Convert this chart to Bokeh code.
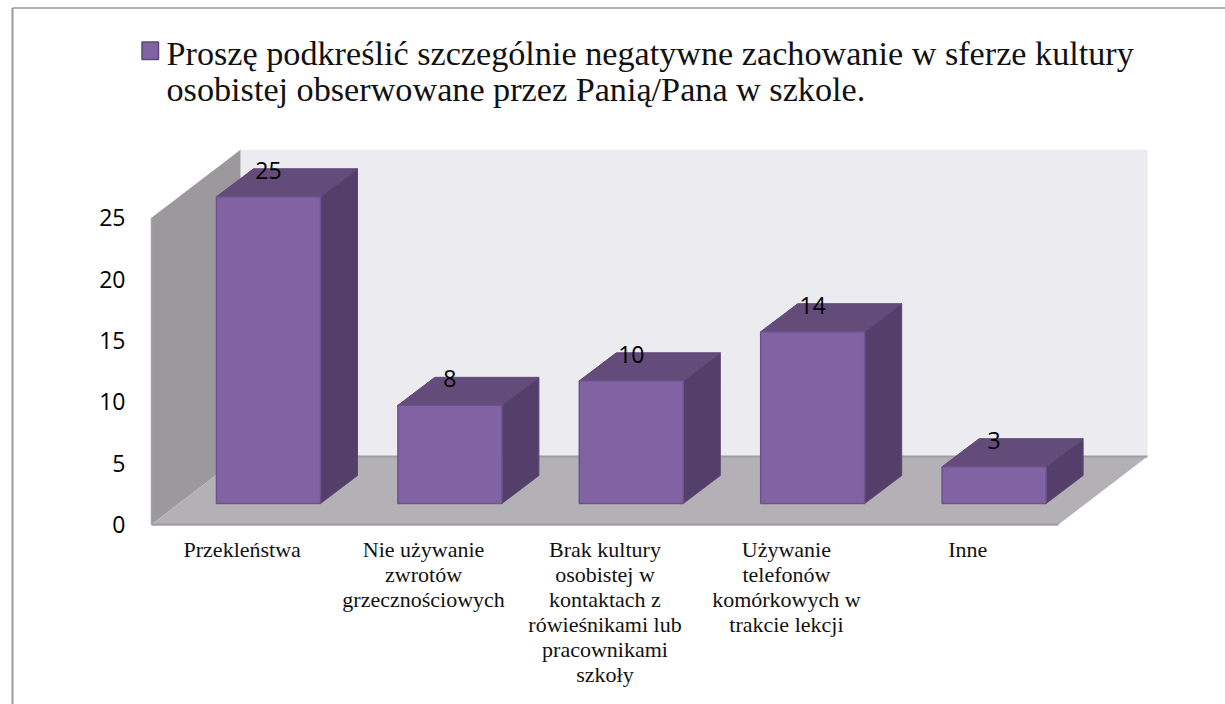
from bokeh.plotting import figure
from bokeh.models import LinearAxis, FixedTicker, Range1d
from bokeh.core.properties import value
from bokeh.embed import file_html
from bokeh.resources import INLINE

categories = ["Przekleństwa", "Nie używanie\nzwrotów\ngrzecznościowych",
              "Brak kultury\nosobistej w\nkontaktach z\nrówieśnikami lub\npracownikami\nszkoły",
              "Używanie\ntelefonów\nkomórkowych w\ntrakcie lekcji", "Inne"]
values = [25, 8, 10, 14, 3]
y_ticks = [0, 5, 10, 15, 20, 25]
legend_lines = ["Proszę podkreślić szczególnie negatywne zachowanie w  sferze kultury",
                "osobistej obserwowane przez Panią/Pana w szkole."]

W, H = 1225, 704
PX_X = 181.4; PX_Y = 12.27
X0 = 241.7; Y0 = 524.0   # page px of category 0 / value 0
def X(px): return (px - X0) / PX_X
def Y(py): return (Y0 - py) / PX_Y

p = figure(width=W, height=H, output_backend="svg", toolbar_location=None,
           x_range=Range1d(X(0), X(W)), y_range=Range1d(Y(H), Y(0)),
           min_border=0, outline_line_color=None, background_fill_color="white", border_fill_color="white")
p.xaxis.visible = False; p.yaxis.visible = False
p.grid.visible = False

# outer frame
p.line([X(12), X(12)], [Y(7.5), Y(704)], line_color="#9a9a9a", line_width=2)
p.line([X(12), X(1225)], [Y(7.5), Y(7.5)], line_color="#9a9a9a", line_width=1.5)

# walls and floor
wall_dx = 89 / PX_X; wall_dy = 68 / PX_Y
xl, xr = -0.5, 4.5
top = max(y_ticks)
p.patch([xl + wall_dx, xr + wall_dx, xr + wall_dx, xl + wall_dx], [wall_dy, wall_dy, top + wall_dy, top + wall_dy],
        fill_color="#ecebf0", line_color=None)
p.patch([xl, xl + wall_dx, xl + wall_dx, xl], [0, wall_dy, top + wall_dy, top], fill_color="#9b999e", line_color=None)
p.patch([xl, xr, xr + wall_dx, xl + wall_dx], [0, 0, wall_dy, wall_dy], fill_color="#b3b1b6", line_color=None)
p.line([xl + wall_dx, xr + wall_dx], [wall_dy, wall_dy], line_color="#a09ea3", line_width=2)
p.line([xl, xr], [0, 0], line_color="#a09ea3", line_width=2.5)
p.line([xl, xl], [0, top], line_color="#a4a2a7", line_width=1.5)

# bars
bar_w = 104 / PX_X
base_dx = 26.3 / PX_X; base_dy = 21 / PX_Y
depth_dx = 37 / PX_X; depth_dy = 28 / PX_Y
edge = "#6b528d"
for i, v in enumerate(values):
    l = i + base_dx - bar_w / 2; r = l + bar_w
    b = base_dy; t = base_dy + v
    p.patch([r, r + depth_dx, r + depth_dx, r], [b, b + depth_dy, t + depth_dy, t],
            fill_color="#533f6a", line_color="#5c4776", line_width=1)
    p.patch([l, r, r + depth_dx, l + depth_dx], [t, t, t + depth_dy, t + depth_dy],
            fill_color="#634c7a", line_color="#5f4978", line_width=1)
    p.patch([l, r, r, l], [b, b, t, t], fill_color="#8163a3", line_color=edge, line_width=1.5)

# value labels
p.text([i + base_dx for i in range(len(values))], [v + base_dy + 26.5 / PX_Y for v in values],
       text=[str(v) for v in values], text_font=value("Open Sans"), text_font_size="23px",
       text_align="center", text_baseline="middle", text_color="black")

# axes
ya = LinearAxis(fixed_location=xl, ticker=FixedTicker(ticks=y_ticks), axis_line_color=None,
                major_tick_line_color=None, minor_tick_line_color=None,
                major_label_text_font="Open Sans", major_label_text_font_size="23px",
                major_label_text_color="black", major_label_standoff=20)
p.add_layout(ya, "left")
xa = LinearAxis(fixed_location=0, ticker=FixedTicker(ticks=list(range(len(categories)))), axis_line_color=None,
                major_tick_line_color=None, minor_tick_line_color=None,
                major_label_overrides={i: c for i, c in enumerate(categories)},
                major_label_text_font="Liberation Serif", major_label_text_font_size="22px",
                major_label_text_color="#111111", major_label_standoff=6, major_label_text_line_height=1.0)
p.add_layout(xa, "below")

# legend
p.patch([X(141.5), X(158), X(158), X(141.5)], [Y(59), Y(59), Y(41.5), Y(41.5)],
        fill_color="#8163a3", line_color="#5c4776", line_width=1.5)
for line, py in zip(legend_lines, (52.5, 89)):
    p.text([X(166)], [Y(py)], text=[line], text_font=value("Liberation Serif"), text_font_size="34.2px",
           text_baseline="alphabetic", text_align="left", text_color="#111111")

open("out.html", "w").write(file_html(p, INLINE))
